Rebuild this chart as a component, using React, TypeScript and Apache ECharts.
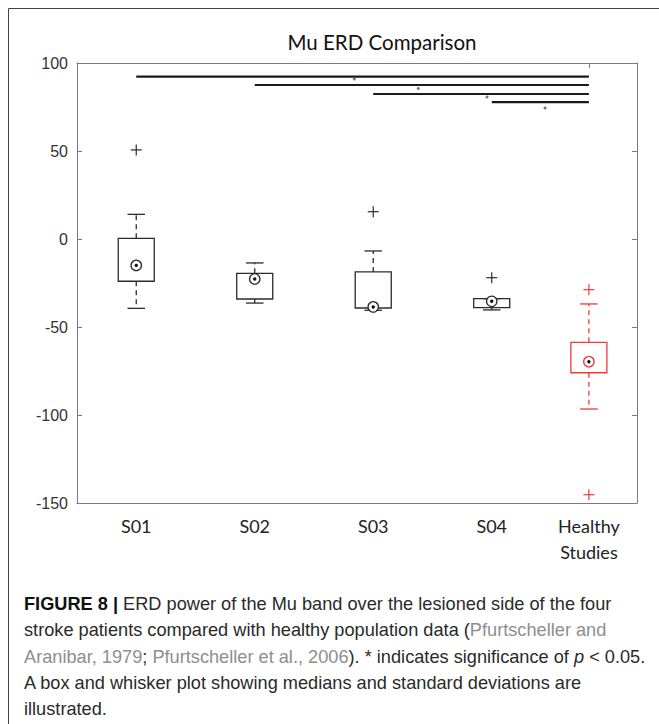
import React, { useEffect, useRef } from "react";
import * as echarts from "echarts";

// ---- data ----
const categories = ["S01", "S02", "S03", "S04", "Healthy\nStudies"];
const positions = [1, 2, 3, 4, 4.82];
const boxMin = [-39.4, -36.4, -40.5, -40.3, -96.6];
const boxQ1 = [-24, -34.1, -39.2, -39, -76];
const boxMedian = [-15, -22.7, -38.6, -35.4, -69.7];
const boxQ3 = [0.4, -19.5, -18.7, -33.9, -58.7];
const boxMax = [14, -13.6, -6.8, -33.9, -36.9];
const outlierX = [1, 3, 4, 4.82, 4.82];
const outlierY = [50.6, 15.5, -22, -28.8, -145.3];
const outlierGroup = [0, 0, 0, 1, 1]; // 1 = healthy (red)
const sigStart = [1, 2, 3, 4];
const sigEnd = [4.82, 4.82, 4.82, 4.82];
const sigY = [92.3, 87.5, 82.4, 77.8];
const starX = [2.84, 3.38, 3.96, 4.45];
const starY = [90.9, 85.5, 80.7, 74.4];
const yTicks = [-150, -100, -50, 0, 50, 100];

const BLACK = "#2b2b2b";
const RED = "#f03a3a";
const CAP_FS = 18.2;

export default function App() {
  const ref = useRef<HTMLDivElement>(null);
  useEffect(() => {
    if (!ref.current) return;
    const chart = echarts.init(ref.current, null, { renderer: "svg" });

    const boxData = positions.map((p, i) => [
      p, boxMin[i], boxQ1[i], boxMedian[i], boxQ3[i], boxMax[i], i === 4 ? 1 : 0,
    ]);
    const outData = outlierX.map((x, i) => [x, outlierY[i], outlierGroup[i]]);
    const sigData = sigStart.map((s, i) => [s, sigEnd[i], sigY[i]]);
    const starData = starX.map((x, i) => [x, starY[i]]);

    const findCat = (v: number) => {
      const i = positions.findIndex((p) => Math.abs(p - v) < 1e-6);
      return i >= 0 ? categories[i] : "";
    };

    const axisColor = "#7a7a7a";

    const option: any = {
      animation: false,
      grid: { left: 77, right: 22, top: 63, bottom: 221, containLabel: false },
      xAxis: [
        {
          type: "value",
          min: 0.5,
          max: 5.226,
          position: "bottom",
          splitLine: { show: false },
          axisLine: { show: true, onZero: false, lineStyle: { color: axisColor, width: 1 } },
          axisTick: { show: false },
          axisLabel: {
            customValues: positions,
            formatter: (v: number) => findCat(v),
            fontFamily: "Lato",
            fontSize: 18,
            color: "#222",
            margin: 10,
            lineHeight: 26,
            showMinLabel: true,
            showMaxLabel: true,
          },
        },
        {
          type: "value",
          min: 0.5,
          max: 5.226,
          position: "top",
          splitLine: { show: false },
          axisLine: { show: true, onZero: false, lineStyle: { color: axisColor, width: 1 } },
          axisTick: {
            show: true,
            inside: true,
            length: 5,
            customValues: [positions[4]],
            lineStyle: { color: axisColor },
          },
          axisLabel: { show: false },
        },
      ],
      yAxis: [
        {
          type: "value",
          min: -150,
          max: 100,
          interval: 50,
          position: "left",
          splitLine: { show: false },
          axisLine: { show: true, onZero: false, lineStyle: { color: axisColor, width: 1 } },
          axisTick: { show: true, inside: true, length: 5, lineStyle: { color: axisColor } },
          axisLabel: {
            fontFamily: "Liberation Sans",
            fontSize: 16,
            color: "#333",
            margin: 9,
            formatter: (v: number) => (yTicks.indexOf(v) >= 0 ? String(v) : ""),
          },
        },
        {
          type: "value",
          min: -150,
          max: 100,
          interval: 50,
          position: "right",
          splitLine: { show: false },
          axisLine: { show: true, onZero: false, lineStyle: { color: axisColor, width: 1 } },
          axisTick: { show: true, inside: true, length: 5, lineStyle: { color: axisColor } },
          axisLabel: { show: false },
        },
      ],
      series: [
        {
          type: "custom",
          name: "boxes",
          xAxisIndex: 0,
          yAxisIndex: 0,
          data: boxData,
          encode: { x: 0, y: [1, 2, 3, 4, 5] },
          renderItem: (params: any, api: any) => {
            const x = api.value(0);
            const pMin = api.coord([x, api.value(1)]);
            const pQ1 = api.coord([x, api.value(2)]);
            const pMed = api.coord([x, api.value(3)]);
            const pQ3 = api.coord([x, api.value(4)]);
            const pMax = api.coord([x, api.value(5)]);
            const color = api.value(6) ? RED : BLACK;
            const bw = api.size([0.304, 0])[0];
            const cw = api.size([0.148, 0])[0];
            const cx = pQ1[0];
            const lw = 1.3;
            const dash = [5, 4];
            return {
              type: "group",
              children: [
                {
                  type: "line",
                  shape: { x1: cx, y1: pQ3[1], x2: cx, y2: pMax[1] },
                  style: { stroke: color, lineWidth: lw, lineDash: dash },
                },
                {
                  type: "line",
                  shape: { x1: cx, y1: pQ1[1], x2: cx, y2: pMin[1] },
                  style: { stroke: color, lineWidth: lw, lineDash: dash },
                },
                {
                  type: "line",
                  shape: { x1: cx - cw / 2, y1: pMax[1], x2: cx + cw / 2, y2: pMax[1] },
                  style: { stroke: color, lineWidth: lw },
                },
                {
                  type: "line",
                  shape: { x1: cx - cw / 2, y1: pMin[1], x2: cx + cw / 2, y2: pMin[1] },
                  style: { stroke: color, lineWidth: lw },
                },
                {
                  type: "rect",
                  shape: { x: cx - bw / 2, y: pQ3[1], width: bw, height: pQ1[1] - pQ3[1] },
                  style: { fill: "none", stroke: color, lineWidth: lw },
                },
                {
                  type: "circle",
                  shape: { cx: cx, cy: pMed[1], r: 5.2 },
                  style: { fill: "#fff", stroke: color, lineWidth: lw },
                },
                {
                  type: "circle",
                  shape: { cx: cx, cy: pMed[1], r: 1.7 },
                  style: { fill: "#111", stroke: "none" },
                },
              ],
            };
          },
          z: 3,
        },
        {
          type: "custom",
          name: "outliers",
          data: outData,
          encode: { x: 0, y: 1 },
          renderItem: (params: any, api: any) => {
            const p = api.coord([api.value(0), api.value(1)]);
            const color = api.value(2) ? RED : BLACK;
            const h = 5.5;
            return {
              type: "group",
              children: [
                {
                  type: "line",
                  shape: { x1: p[0] - h, y1: p[1], x2: p[0] + h, y2: p[1] },
                  style: { stroke: color, lineWidth: 1.2 },
                },
                {
                  type: "line",
                  shape: { x1: p[0], y1: p[1] - h, x2: p[0], y2: p[1] + h },
                  style: { stroke: color, lineWidth: 1.2 },
                },
              ],
            };
          },
          z: 3,
        },
        {
          type: "custom",
          name: "significance",
          data: sigData,
          encode: { x: [0, 1], y: 2 },
          renderItem: (params: any, api: any) => {
            const a = api.coord([api.value(0), api.value(2)]);
            const b = api.coord([api.value(1), api.value(2)]);
            return {
              type: "line",
              shape: { x1: a[0], y1: a[1], x2: b[0], y2: b[1] },
              style: { stroke: "#1a1a1a", lineWidth: 2.2 },
            };
          },
          z: 4,
        },
        {
          type: "scatter",
          name: "stars",
          data: starData,
          symbol: "circle",
          symbolSize: 3,
          itemStyle: { color: "#555" },
          z: 4,
        },
      ],
      graphic: [
        {
          type: "rect",
          shape: { x: 8.5, y: 8.5, width: 700, height: 760 },
          style: { fill: "none", stroke: "#444", lineWidth: 1 },
          silent: true,
        },
        {
          type: "text",
          x: 382,
          y: 42,
          style: {
            text: "Mu ERD Comparison",
            font: "20.5px Lato",
            fill: "#111",
            textAlign: "center",
            textVerticalAlign: "middle",
          },
        },
        ...[
          "{b|FIGURE 8 |} ERD power of the Mu band over the lesioned side of the four",
          "stroke patients compared with healthy population data ({g|Pfurtscheller and}",
          "{g|Aranibar, 1979}; {g|Pfurtscheller et al., 2006}). * indicates significance of {i|p} < 0.05.",
          "A box and whisker plot showing medians and standard deviations are",
          "illustrated.",
        ].map((t, i) => ({
          type: "text",
          x: 24,
          y: 604 + i * 26.3,
          style: {
            text: t,
            fontFamily: "Liberation Sans",
            fontSize: CAP_FS,
            fill: "#2a2a2a",
            textAlign: "left",
            textVerticalAlign: "middle",
            rich: {
              b: { fontFamily: "Liberation Sans", fontSize: CAP_FS, fontWeight: "bold", fill: "#111", color: "#111" },
              g: { fontFamily: "Liberation Sans", fontSize: CAP_FS, fill: "#8e8e8e", color: "#8e8e8e" },
              i: { fontFamily: "Liberation Sans", fontSize: CAP_FS, fontStyle: "italic", fill: "#2a2a2a", color: "#2a2a2a" },
            },
          },
        })),
      ],
    };
    chart.setOption(option);
    return () => chart.dispose();
  }, []);
  return (
    <div
      ref={ref}
      style={{ position: "absolute", left: 0, top: 0, width: 659, height: 724, background: "#fff" }}
    />
  );
}
